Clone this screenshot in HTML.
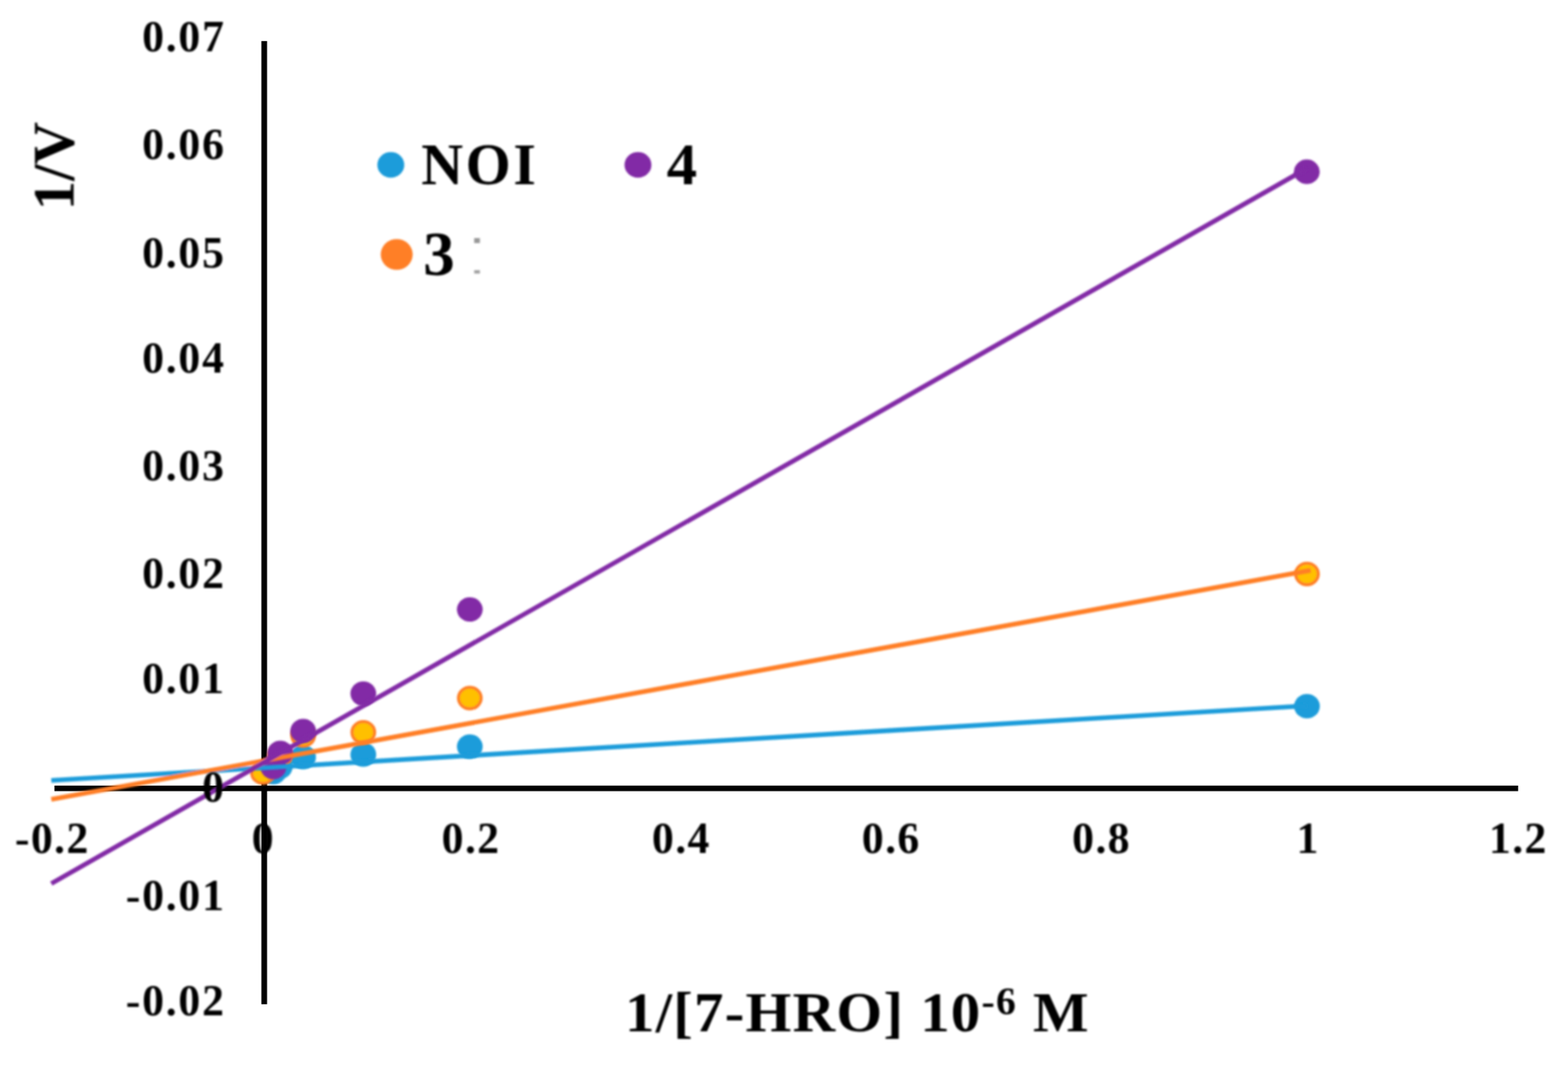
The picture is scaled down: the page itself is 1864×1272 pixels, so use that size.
<!DOCTYPE html>
<html lang="en"><head><meta charset="utf-8"><title>Lineweaver-Burk plot</title>
<style>html,body{margin:0;padding:0;background:#fff}body{width:1864px;height:1272px;overflow:hidden}svg{display:block}text{font-family:"Liberation Serif",serif;font-weight:bold;fill:#000}</style>
</head><body>
<svg width="1864" height="1272" viewBox="0 0 1864 1272">
<defs><filter id="soft" x="0" y="0" width="1864" height="1272" filterUnits="userSpaceOnUse"><feGaussianBlur stdDeviation="1"/></filter></defs>
<rect width="1864" height="1272" fill="#fff"/>
<g id="chart">
<g id="yticks" filter="url(#soft)">
<text transform="translate(268.3 61.2)" font-size="52" letter-spacing="2.1" text-anchor="end">0.07</text>
<text transform="translate(268.3 188.8)" font-size="52" letter-spacing="2.1" text-anchor="end">0.06</text>
<text transform="translate(268.3 317.5)" font-size="52" letter-spacing="2.1" text-anchor="end">0.05</text>
<text transform="translate(268.3 443)" font-size="52" letter-spacing="2.1" text-anchor="end">0.04</text>
<text transform="translate(268.3 570.5)" font-size="52" letter-spacing="2.1" text-anchor="end">0.03</text>
<text transform="translate(268.3 698.5)" font-size="52" letter-spacing="2.1" text-anchor="end">0.02</text>
<text transform="translate(268.3 823.5)" font-size="52" letter-spacing="2.1" text-anchor="end">0.01</text>
<text transform="translate(268.3 1081.5)" font-size="52" letter-spacing="2.1" text-anchor="end">-0.01</text>
<text transform="translate(268.3 1207)" font-size="52" letter-spacing="2.1" text-anchor="end">-0.02</text>
</g>
<g id="xticks" filter="url(#soft)">
<text transform="translate(62.2 1014)" font-size="52" letter-spacing="1.6" text-anchor="middle">-0.2</text>
<text transform="translate(313 1014)" font-size="52" letter-spacing="1.6" text-anchor="middle">0</text>
<text transform="translate(560 1014)" font-size="52" letter-spacing="1.6" text-anchor="middle">0.2</text>
<text transform="translate(810 1014)" font-size="52" letter-spacing="1.6" text-anchor="middle">0.4</text>
<text transform="translate(1059.5 1014)" font-size="52" letter-spacing="1.6" text-anchor="middle">0.6</text>
<text transform="translate(1309.5 1014)" font-size="52" letter-spacing="1.6" text-anchor="middle">0.8</text>
<text transform="translate(1555 1014)" font-size="52" letter-spacing="1.6" text-anchor="middle">1</text>
<text transform="translate(1805 1014)" font-size="52" letter-spacing="1.6" text-anchor="middle">1.2</text>
</g>
<g id="axes" fill="#000">
<rect x="310.7" y="48.8" width="6.8" height="1145"/>
<rect x="64.7" y="933.9" width="1740" height="6.6"/>
</g>
<g id="markers-noi" filter="url(#soft)">
<ellipse cx="325" cy="918" rx="15.3" ry="14.6" fill="#1E9CDA"/>
<ellipse cx="332.5" cy="911.6" rx="15.3" ry="14.6" fill="#1E9CDA"/>
<ellipse cx="360.3" cy="900" rx="15.3" ry="14.6" fill="#1E9CDA"/>
<ellipse cx="431.9" cy="897" rx="15.3" ry="14.6" fill="#1E9CDA"/>
<ellipse cx="558.5" cy="887.6" rx="15.3" ry="14.6" fill="#1E9CDA"/>
<ellipse cx="1553.7" cy="839.5" rx="15.3" ry="14.6" fill="#1E9CDA"/>
</g>
<g id="markers-3" filter="url(#soft)">
<ellipse cx="312.6" cy="918.5" rx="13.5" ry="12.8" fill="#FFC000" stroke="#FF7F27" stroke-width="3.6"/>
<ellipse cx="332.8" cy="898.5" rx="13.5" ry="12.8" fill="#FFC000" stroke="#FF7F27" stroke-width="3.6"/>
<ellipse cx="360.4" cy="874.5" rx="13.5" ry="12.8" fill="#FFC000" stroke="#FF7F27" stroke-width="3.6"/>
<ellipse cx="431.9" cy="870.6" rx="13.5" ry="12.8" fill="#FFC000" stroke="#FF7F27" stroke-width="3.6"/>
<ellipse cx="558.5" cy="829.8" rx="13.5" ry="12.8" fill="#FFC000" stroke="#FF7F27" stroke-width="3.6"/>
<ellipse cx="1553.7" cy="682.3" rx="13.5" ry="12.8" fill="#FFC000" stroke="#FF7F27" stroke-width="3.6"/>
</g>
<g id="markers-4" filter="url(#soft)">
<ellipse cx="325" cy="912" rx="15.3" ry="14.6" fill="#822CA6"/>
<ellipse cx="333.2" cy="895" rx="15.3" ry="14.6" fill="#822CA6"/>
<ellipse cx="360.4" cy="869" rx="15.3" ry="14.6" fill="#822CA6"/>
<ellipse cx="431.9" cy="824.6" rx="15.3" ry="14.6" fill="#822CA6"/>
<ellipse cx="558.5" cy="724.5" rx="15.3" ry="14.6" fill="#822CA6"/>
<ellipse cx="1553.5" cy="204.2" rx="15.3" ry="14.6" fill="#822CA6"/>
</g>
<g id="trendlines" filter="url(#soft)">
<line x1="61" y1="927.8" x2="1553.7" y2="839" stroke="#1E9CDA" stroke-width="5.6"/>
<line x1="61" y1="950.3" x2="1558" y2="677.9" stroke="#FF7F27" stroke-width="5.6"/>
<line x1="61" y1="1050.4" x2="1553.5" y2="200.2" stroke="#822CA6" stroke-width="5.6"/>
</g>
<g id="ytick-zero" filter="url(#soft)">
<text transform="translate(268.3 952.5)" font-size="52" letter-spacing="2.1" text-anchor="end">0</text>
</g>
<g id="legend" filter="url(#soft)">
<ellipse cx="464.6" cy="196" rx="16" ry="15.3" fill="#1E9CDA"/>
<text transform="translate(500.7 219)" font-size="69" letter-spacing="3" text-anchor="start">NOI</text>
<ellipse cx="758.4" cy="196" rx="16" ry="15.3" fill="#822CA6"/>
<text transform="translate(792.6 218.5) scale(1.05 1)" font-size="69" letter-spacing="0" text-anchor="start">4</text>
<ellipse cx="471.6" cy="302.5" rx="19" ry="18.3" fill="#FF7F27"/>
<text transform="translate(503 326.5) scale(1.03 1)" font-size="73" letter-spacing="0" text-anchor="start">3</text>
<rect x="563.7" y="283" width="6.8" height="6" fill="#999"/><rect x="563.7" y="321.2" width="6.8" height="4" fill="#a0a0a0"/>
</g>
<g id="titles" filter="url(#soft)">
<text transform="translate(743 1225.5) scale(1.03 1)" font-size="68" letter-spacing="1.4" text-anchor="start" id="xtitle">1/[7-HRO] 10<tspan font-size="46" dy="-20">-6</tspan><tspan dy="20"> M</tspan></text>
<text transform="translate(87.5 250) rotate(-90)" font-size="70" letter-spacing="0" text-anchor="start" id="ytitle">1/V</text>
</g>
</g>
</svg>
</body></html>
